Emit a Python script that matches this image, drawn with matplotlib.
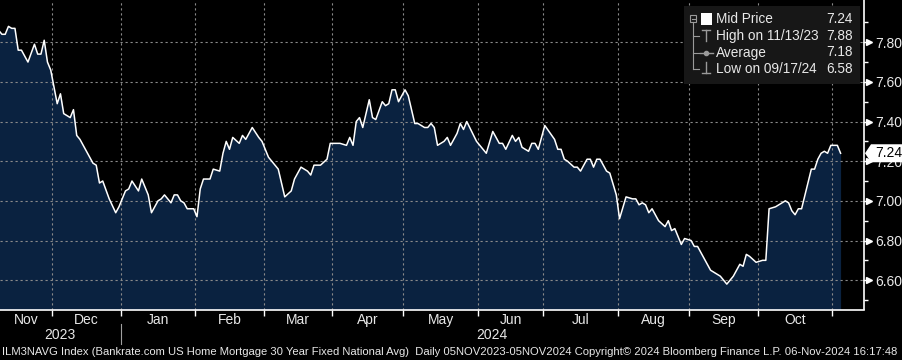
import numpy as np
import matplotlib
matplotlib.use("Agg")
import matplotlib.pyplot as plt
import matplotlib.transforms as mtransforms
from matplotlib.patches import Polygon, Rectangle
from matplotlib.lines import Line2D

plt.rcParams["font.family"] = ["Liberation Sans", "DejaVu Sans"]

# Bankrate 30y fixed national average (ILM3NAVG)
dates = [
    "2023-11-07", "2023-11-08", "2023-11-09", "2023-11-10", "2023-11-13", "2023-11-14",
    "2023-11-15", "2023-11-16", "2023-11-17", "2023-11-21", "2023-11-23", "2023-11-24",
    "2023-11-27", "2023-11-28", "2023-11-29", "2023-11-30", "2023-12-04", "2023-12-05",
    "2023-12-06", "2023-12-08", "2023-12-11", "2023-12-12", "2023-12-13", "2023-12-15",
    "2023-12-19", "2023-12-20", "2023-12-21", "2023-12-22", "2023-12-26", "2023-12-28",
    "2023-12-29", "2024-01-02", "2024-01-03", "2024-01-04", "2024-01-08", "2024-01-09",
    "2024-01-11", "2024-01-12", "2024-01-16", "2024-01-17", "2024-01-18", "2024-01-22",
    "2024-01-23", "2024-01-24", "2024-01-25", "2024-01-26", "2024-01-29", "2024-01-31",
    "2024-02-01", "2024-02-02", "2024-02-05", "2024-02-07", "2024-02-08", "2024-02-12",
    "2024-02-13", "2024-02-14", "2024-02-15", "2024-02-16", "2024-02-20", "2024-02-21",
    "2024-02-22", "2024-02-26", "2024-02-28", "2024-02-29", "2024-03-01", "2024-03-04",
    "2024-03-07", "2024-03-11", "2024-03-13", "2024-03-14", "2024-03-18", "2024-03-20",
    "2024-03-21", "2024-03-22", "2024-03-26", "2024-03-28", "2024-03-29", "2024-04-03",
    "2024-04-05", "2024-04-08", "2024-04-09", "2024-04-10", "2024-04-11", "2024-04-12",
    "2024-04-16", "2024-04-17", "2024-04-18", "2024-04-22", "2024-04-23", "2024-04-24",
    "2024-04-25", "2024-04-26", "2024-04-29", "2024-05-01", "2024-05-02", "2024-05-06",
    "2024-05-07", "2024-05-09", "2024-05-10", "2024-05-13", "2024-05-14", "2024-05-15",
    "2024-05-16", "2024-05-17", "2024-05-20", "2024-05-21", "2024-05-23", "2024-05-24",
    "2024-05-27", "2024-05-28", "2024-05-31", "2024-06-03", "2024-06-05", "2024-06-07",
    "2024-06-11", "2024-06-12", "2024-06-13", "2024-06-17", "2024-06-18", "2024-06-19",
    "2024-06-20", "2024-06-24", "2024-06-25", "2024-06-26", "2024-06-27", "2024-07-01",
    "2024-07-04", "2024-07-05", "2024-07-08", "2024-07-09", "2024-07-10", "2024-07-12",
    "2024-07-15", "2024-07-16", "2024-07-18", "2024-07-19", "2024-07-22", "2024-07-23",
    "2024-07-24", "2024-07-26", "2024-07-29", "2024-07-31", "2024-08-01", "2024-08-05",
    "2024-08-07", "2024-08-08", "2024-08-09", "2024-08-12", "2024-08-13", "2024-08-14",
    "2024-08-15", "2024-08-19", "2024-08-21", "2024-08-22", "2024-08-23", "2024-08-26",
    "2024-08-28", "2024-08-29", "2024-09-02", "2024-09-03", "2024-09-04", "2024-09-09",
    "2024-09-10", "2024-09-13", "2024-09-17", "2024-09-19", "2024-09-23", "2024-09-24",
    "2024-09-25", "2024-09-26", "2024-09-30", "2024-10-02", "2024-10-03", "2024-10-04",
    "2024-10-08", "2024-10-09", "2024-10-11", "2024-10-14", "2024-10-15", "2024-10-16",
    "2024-10-17", "2024-10-18", "2024-10-23", "2024-10-24", "2024-10-25", "2024-10-28",
    "2024-10-29", "2024-10-30", "2024-10-31", "2024-11-04", "2024-11-05",
]
rates = [
    7.86, 7.86, 7.84, 7.84, 7.88, 7.87, 7.87, 7.76, 7.76, 7.70, 7.79, 7.74,
    7.74, 7.81, 7.70, 7.66, 7.49, 7.54, 7.44, 7.42, 7.46, 7.33, 7.31, 7.25,
    7.19, 7.18, 7.09, 7.10, 7.01, 6.94, 6.97, 7.05, 7.06, 7.10, 7.05, 7.11,
    7.03, 6.94, 7.00, 7.01, 7.03, 6.99, 7.03, 7.03, 7.00, 6.99, 6.96, 6.96,
    6.92, 7.06, 7.11, 7.11, 7.16, 7.15, 7.24, 7.30, 7.26, 7.32, 7.29, 7.33,
    7.31, 7.37, 7.32, 7.30, 7.26, 7.22, 7.16, 7.02, 7.05, 7.11, 7.17, 7.15,
    7.13, 7.18, 7.18, 7.21, 7.29, 7.29, 7.28, 7.32, 7.28, 7.40, 7.42, 7.37,
    7.51, 7.42, 7.41, 7.50, 7.48, 7.49, 7.56, 7.56, 7.50, 7.56, 7.53, 7.39,
    7.39, 7.37, 7.37, 7.39, 7.37, 7.28, 7.29, 7.30, 7.32, 7.28, 7.34, 7.39,
    7.36, 7.40, 7.30, 7.28, 7.24, 7.35, 7.29, 7.29, 7.26, 7.33, 7.30, 7.32,
    7.27, 7.25, 7.29, 7.29, 7.26, 7.38, 7.31, 7.26, 7.26, 7.21, 7.20, 7.17,
    7.17, 7.15, 7.21, 7.21, 7.17, 7.21, 7.21, 7.15, 7.14, 7.03, 6.91, 7.02,
    7.01, 7.01, 6.98, 6.99, 6.98, 6.94, 6.96, 6.90, 6.87, 6.90, 6.85, 6.86,
    6.78, 6.81, 6.80, 6.77, 6.77, 6.68, 6.65, 6.62, 6.58, 6.62, 6.68, 6.67,
    6.73, 6.72, 6.69, 6.70, 6.70, 6.96, 6.97, 6.98, 7.00, 6.99, 6.95, 6.93,
    6.96, 6.96, 7.16, 7.16, 7.21, 7.24, 7.25, 7.24, 7.28, 7.28, 7.24,
]
average_rate = 7.18

start_date = "2023-11-06"
month_starts = ["2023-12-01", "2024-01-01", "2024-02-01", "2024-03-01", "2024-04-01",
                "2024-05-01", "2024-06-01", "2024-07-01", "2024-08-01", "2024-09-01",
                "2024-10-01", "2024-11-01"]
month_names = ["Nov", "Dec", "Jan", "Feb", "Mar", "Apr", "May", "Jun", "Jul", "Aug", "Sep", "Oct"]
y_ticks = [6.60, 6.80, 7.00, 7.20, 7.40, 7.60, 7.80]
y_minor = [6.50, 6.70, 6.90, 7.10, 7.30, 7.50, 7.70, 7.90]

W, H = 902, 360
NAVY = "#0a2240"
GRID = "#8a8a8a"
TXT = "#e8e8e8"


def px(x, y):
    # pixel position (from top-left) -> figure fraction
    return x / W, 1 - y / H


# business-day positions, like the Bloomberg x axis
pos = np.busday_count(start_date, np.array(dates, dtype="datetime64[D]"))
first_bd = np.busday_offset(np.array(month_starts, dtype="datetime64[D]"), 0, roll="forward")
bounds = np.busday_count(start_date, first_bd) - 0.5

x_lo, x_hi = 2.4, 268.2
y_lo, y_hi = 6.452, 8.013

fig = plt.figure(figsize=(W / 100, H / 100), dpi=100, facecolor="black")
ax = fig.add_axes([0, 1 - 309.5 / H, 864 / W, 309.5 / H], facecolor="black")
ax.set_xlim(x_lo, x_hi)
ax.set_ylim(y_lo, y_hi)

ax.fill_between(pos, rates, y_lo, color=NAVY, lw=0, zorder=1)
ax.plot(pos, rates, color="white", lw=1.1, zorder=4)

# dashed grid
for v in y_ticks:
    ax.axhline(v, color=GRID, lw=0.8, ls=(0, (2, 2.5)), zorder=2)
for b in bounds:
    ax.axvline(b, color=GRID, lw=0.8, ls=(0, (2, 2.5)), zorder=2)

for s in ["left", "top"]:
    ax.spines[s].set_visible(False)
for s in ["right", "bottom"]:
    ax.spines[s].set_color("white")
    ax.spines[s].set_linewidth(1.2)

# right axis
ax.yaxis.tick_right()
ax.set_yticks(y_ticks, [f"{v:.2f}" for v in y_ticks])
ax.set_yticks(y_minor, minor=True)
ax.tick_params(axis="y", which="major", length=0, pad=8, labelsize=10, labelcolor=TXT)
ax.tick_params(axis="y", which="minor", length=3, width=1, color="white", direction="out")
tri_tr = mtransforms.offset_copy(ax.get_yaxis_transform(), fig=fig, x=5, y=0, units="dots")
ax.plot([1] * len(y_ticks), y_ticks, ls="none", marker=">", ms=4.5, color="white",
        transform=tri_tr, clip_on=False, zorder=5)
ax.plot([1] * len(y_ticks), y_ticks, ls="none", marker="_", ms=4, mew=1, color="white",
        transform=mtransforms.offset_copy(ax.get_yaxis_transform(), fig=fig, x=2, y=0, units="dots"),
        clip_on=False, zorder=5)

# bottom axis
ax.set_xticks(bounds, [""] * len(bounds))
ax.tick_params(axis="x", length=4, width=1, color="white", direction="out")
edges = [x_lo] + list(bounds)
bx = mtransforms.blended_transform_factory(ax.transData, fig.transFigure)
for i, name in enumerate(month_names):
    ax.text((edges[i] + edges[i + 1]) / 2, 1 - 320 / H, name, transform=bx,
            ha="center", va="center", color=TXT, fontsize=10, clip_on=False)
ax.text((x_lo + bounds[1]) / 2, 1 - 335 / H, "2023", transform=bx,
        ha="center", va="center", color=TXT, fontsize=10)
ax.text((bounds[1] + x_hi) / 2, 1 - 335 / H, "2024", transform=bx,
        ha="center", va="center", color=TXT, fontsize=10)
ax.add_line(Line2D([bounds[1], bounds[1]], [1 - 324 / H, 1 - 344 / H], transform=bx,
                   color="#a0a0a0", lw=0.8, clip_on=False))

# last value tag
fig.canvas.draw()
lx, ly = ax.get_yaxis_transform().transform((1, rates[-1]))
tag = Polygon([(lx + 1, ly), (lx + 7, ly + 9), (W, ly + 9), (W, ly - 9), (lx + 7, ly - 9)],
              closed=True, transform=None, facecolor="white", edgecolor="none", zorder=10)
fig.add_artist(tag)
fig.text((lx + 11) / W, ly / H, f"{rates[-1]:.2f}", color="black", fontsize=10,
         ha="left", va="center", zorder=11)

# legend block
fig.add_artist(Rectangle(px(684, 84), 176 / W, 78 / H, transform=fig.transFigure,
                         facecolor="#171717", edgecolor="none", zorder=8))
icon = "#9a9a9a"


def seg(x0, y0, x1, y1, c=icon, lw=1.0):
    a, b = px(x0, y0)
    c2, d = px(x1, y1)
    fig.add_artist(Line2D([a, c2], [b, d], transform=fig.transFigure, color=c, lw=lw, zorder=9))


fig.add_artist(Rectangle(px(690, 21.5), 6 / W, 6 / H, transform=fig.transFigure,
                         facecolor="none", edgecolor=icon, lw=0.8, zorder=9))
seg(691.5, 18.5, 694.5, 18.5, lw=0.8)
seg(693, 22, 693, 69, lw=0.8)
for ry in [36, 52.5, 69]:
    seg(693, ry, 699, ry, lw=0.8)
fig.add_artist(Rectangle(px(701, 24.5), 11 / W, 12 / H, transform=fig.transFigure,
                         facecolor="white", edgecolor="none", zorder=9))
seg(702, 30, 710, 30)
seg(706, 30, 706, 41)
seg(700, 52.5, 713, 52.5)
fig.add_artist(Line2D([px(706, 0)[0]], [px(0, 52.5)[1]], transform=fig.transFigure,
                      marker="o", ms=3, color=icon, zorder=9))
seg(706, 62, 706, 73)
seg(702, 73, 710, 73)

high_i = int(np.argmax(rates))
low_i = int(np.argmin(rates))


def us_date(d):
    y, m, dd = d.split("-")
    return f"{m}/{dd}/{y[2:]}"


rows = [
    ("Mid Price", rates[-1]),
    (f"High on {us_date(dates[high_i])}", rates[high_i]),
    ("Average", average_rate),
    (f"Low on {us_date(dates[low_i])}", rates[low_i]),
]
for (label, val), ry in zip(rows, [19, 36, 52.5, 69]):
    fig.text(*px(716, ry), label, color=TXT, fontsize=9.8, ha="left", va="center", zorder=10)
    fig.text(*px(853, ry), f"{val:.2f}", color=TXT, fontsize=9.8, ha="right", va="center", zorder=10)

# footer
footer = fig.text(*px(2, 352), "ILM3NAVG Index (Bankrate.com US Home Mortgage 30 Year Fixed National Avg)  "
                  "Daily 05NOV2023-05NOV2024 Copyright\u00a9 2024 Bloomberg Finance L.P. 06-Nov-2024 16:17:48",
                  color=TXT, fontsize=7.5, ha="left", va="center")
fig.canvas.draw()
bb = footer.get_window_extent()
footer.set_fontsize(7.5 * 896 / bb.width)

fig.savefig("out.png", dpi=100, facecolor="black")
